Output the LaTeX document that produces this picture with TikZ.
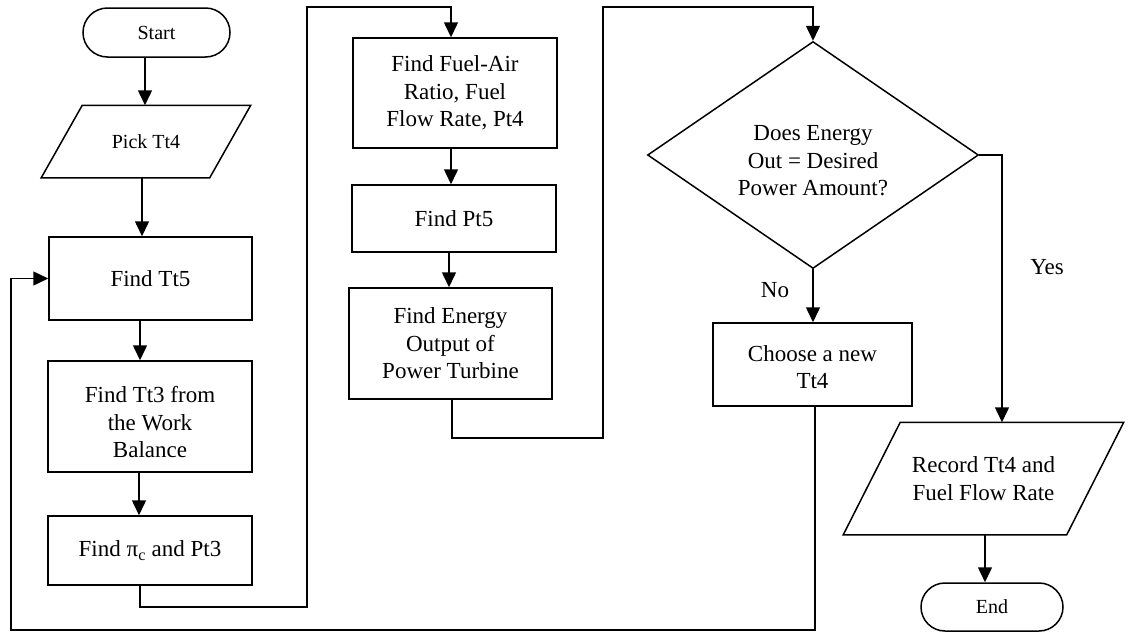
\documentclass[tikz,border=0pt]{standalone}
\usepackage{fontspec}
\setmainfont{Liberation Serif}
\usetikzlibrary{arrows.meta,shapes.geometric,shapes.misc,calc}
\newcommand{\lowtext}[2]{\raisebox{-#1}[\height][\depth]{\begin{tabular}{@{}c@{}}#2\end{tabular}}}
\tikzset{
  base/.style={draw, line width=1.5pt, align=center, inner sep=0pt, font=\fontsize{23}{27.5}\selectfont},
  box/.style={base, rectangle},
  term/.style={base, rounded rectangle, font=\fontsize{20}{24}\selectfont},
  paratext/.style={base, draw=none, rectangle},
  dec/.style={base, diamond, aspect=1.46},
  lbl/.style={inner sep=0pt, font=\fontsize{23}{27.5}\selectfont},
  arr/.style={line width=1.5pt, -{Triangle[width=14pt,length=15pt]}},
  ln/.style={line width=1.5pt, line join=miter}
}
\begin{document}
\begin{tikzpicture}[x=1pt,y=-1pt]
\useasboundingbox (0,0) rectangle (1135,632);
\node[term, minimum width=147pt, minimum height=49pt] (start) at (156.5,32.5) {Start};
\node[paratext, minimum width=208pt, minimum height=71pt, font=\fontsize{20}{24}\selectfont] (pick) at (146,141.5) {Pick Tt4};
\draw[ln] (pick.south west) -- ($(pick.north west)+(41,0)$) -- (pick.north east) -- ($(pick.south east)+(-41,0)$) -- cycle;
\node[box, minimum width=203pt, minimum height=83pt] (tt5) at (150.5,278.5) {Find Tt5};
\node[box, minimum width=204pt, minimum height=111pt] (tt3) at (150,416.5) {\lowtext{8pt}{Find Tt3 from\\the Work\\Balance}};
\node[box, minimum width=204pt, minimum height=69pt] (pic) at (150,550.5) {Find π\textsubscript{c} and Pt3};
\node[box, minimum width=204pt, minimum height=110pt] (fa) at (455,93) {Find Fuel-Air\\Ratio, Fuel\\Flow Rate, Pt4};
\node[box, minimum width=204pt, minimum height=67pt] (pt5) at (454,218.5) {Find Pt5};
\node[box, minimum width=203pt, minimum height=111pt] (en) at (450.5,343.5) {Find Energy\\Output of\\Power Turbine};
\node[dec, minimum width=331pt, minimum height=227pt] (q) at (813,155) {\lowtext{7.5pt}{Does Energy\\Out = Desired\\Power Amount?}};
\node[box, minimum width=199pt, minimum height=83pt] (ch) at (812.5,364.5) {\lowtext{5pt}{Choose a new\\Tt4}};
\node[paratext, minimum width=279pt, minimum height=111pt] (rec) at (983.5,478.5) {Record Tt4 and\\Fuel Flow Rate};
\draw[ln] (rec.south west) -- ($(rec.north west)+(57,0)$) -- (rec.north east) -- ($(rec.south east)+(-57,0)$) -- cycle;
\node[term, minimum width=142pt, minimum height=48pt] (end) at (992,607) {End};
\node[lbl] (no) at (775,290) {No};
\node[lbl] (yes) at (1047,267) {Yes};
\coordinate (c1) at (307,607);
\coordinate (c2) at (307,7);
\coordinate (c3) at (603,438);
\coordinate (c4) at (603,7);
\coordinate (c6) at (11,630);
\draw[arr] ([xshift=-11.5pt]start.south) -- ([xshift=-11.5pt]start.south |- pick.north);
\draw[arr] ([xshift=-4pt]pick.south) -- ([xshift=-4pt]pick.south |- tt5.north);
\draw[arr] ([xshift=-10.5pt]tt5.south) -- ([xshift=-10.5pt]tt5.south |- tt3.north);
\draw[arr] ([xshift=-11pt]tt3.south) -- ([xshift=-11pt]tt3.south |- pic.north);
\draw[arr] ([xshift=-10pt]pic.south) |- (c1) -- (c2) -| ([xshift=-4pt]fa.north);
\draw[arr] ([xshift=-4pt]fa.south) -- ([xshift=-4pt]fa.south |- pt5.north);
\draw[arr] ([xshift=-5pt]pt5.south) -- ([xshift=-5pt]pt5.south |- en.north);
\draw[arr] ([xshift=1.5pt]en.south) |- (c3) -- (c4) -| (q.north);
\draw[arr] (q.south) -- (q.south |- ch.north);
\draw[arr] (q.east) -| ([xshift=18.5pt]rec.north);
\draw[arr] ([xshift=1.5pt]rec.south) -- ([xshift=1.5pt]rec.south |- end.north);
\draw[arr] ([xshift=2.5pt]ch.south) |- (c6) |- (tt5.west);
\end{tikzpicture}
\end{document}
